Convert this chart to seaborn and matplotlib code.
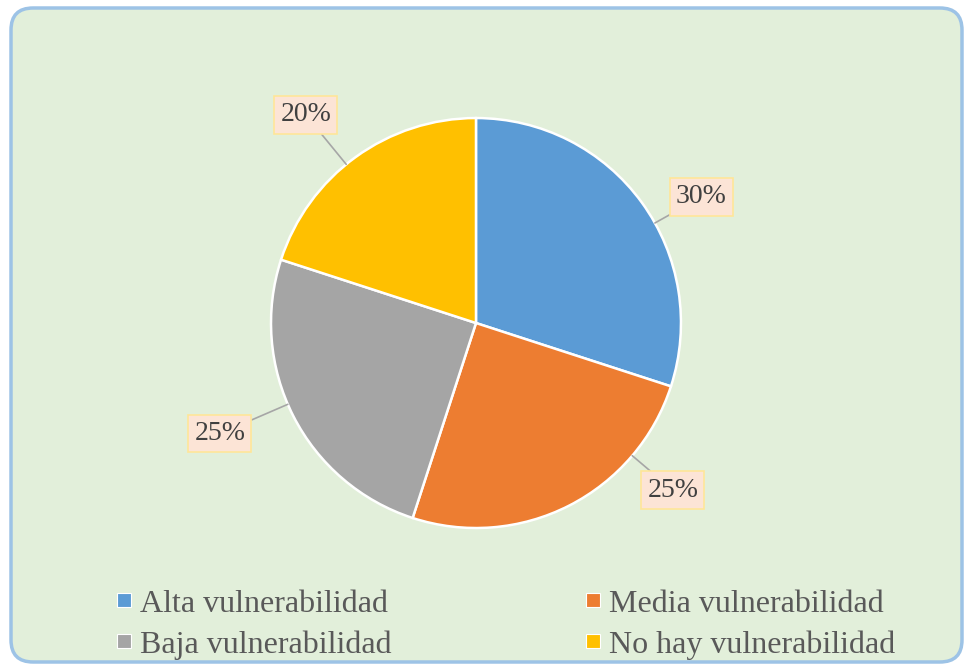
import matplotlib.pyplot as plt
import numpy as np
import seaborn as sns
from matplotlib.lines import Line2D
from matplotlib.patches import FancyBboxPatch
from matplotlib.transforms import IdentityTransform

categories = ["Alta vulnerabilidad", "Media vulnerabilidad",
              "Baja vulnerabilidad", "No hay vulnerabilidad"]
values = [30, 25, 25, 20]
labels = ["30%", "25%", "25%", "20%"]
colors = ["#5B9BD5", "#ED7D31", "#A5A5A5", "#FFC000"]
# where each percentage box sits, in pie radius units
label_pos = [(1.10, 0.615), (0.96, -0.815), (-1.25, -0.54), (-0.83, 1.015)]

sns.set_theme(style="white")
plt.rcParams["font.family"] = ["Liberation Serif", "DejaVu Serif"]

fig = plt.figure(figsize=(9.65, 6.65), dpi=100)
fig.patch.set_facecolor("white")

# rounded green frame
frame = FancyBboxPatch((11, 3), 951, 654, boxstyle="round,pad=0,rounding_size=22",
                       transform=IdentityTransform(), facecolor="#E2EFDA",
                       edgecolor="#9DC3E6", linewidth=2.5, zorder=-5)
fig.patches.append(frame)

ax = fig.add_axes([0.2808, 0.206, 0.4249, 0.6165])
ax.set_zorder(2)
ax.set_facecolor("none")
wedges, _ = ax.pie(values, colors=colors, startangle=90, counterclock=False,
                   radius=1, wedgeprops=dict(edgecolor="white", linewidth=1.8))
ax.set_xlim(-1, 1)
ax.set_ylim(-1, 1)
ax.set_aspect("equal")
ax.axis("off")

for lab, (tx, ty) in zip(labels, label_pos):
    ang = np.arctan2(ty, tx)
    ax.annotate(lab, xy=(np.cos(ang), np.sin(ang)), xytext=(tx, ty),
                ha="center", va="center", fontsize=20, color="#404040",
                bbox=dict(boxstyle="square,pad=0.22", facecolor="#FCE4D6",
                          edgecolor="#FFE699", linewidth=1.2),
                arrowprops=dict(arrowstyle="-", color="#A6A6A6", lw=1.2,
                                shrinkA=0, shrinkB=0),
                annotation_clip=False)

order = [0, 2, 1, 3]
handles = [Line2D([], [], marker="s", linestyle="none", markersize=10,
                  markerfacecolor=colors[i], markeredgecolor="white",
                  markeredgewidth=0.8) for i in order]
leg = fig.legend(handles, [categories[i] for i in order], ncol=2, loc="center",
                 bbox_to_anchor=(0.524, 0.061), frameon=False, fontsize=23,
                 labelcolor="#595959", handlelength=0.5, handletextpad=0.25,
                 columnspacing=6.05, labelspacing=0.36)
leg.set_zorder(3)

fig.savefig("out.png", dpi=100, facecolor=fig.get_facecolor())
